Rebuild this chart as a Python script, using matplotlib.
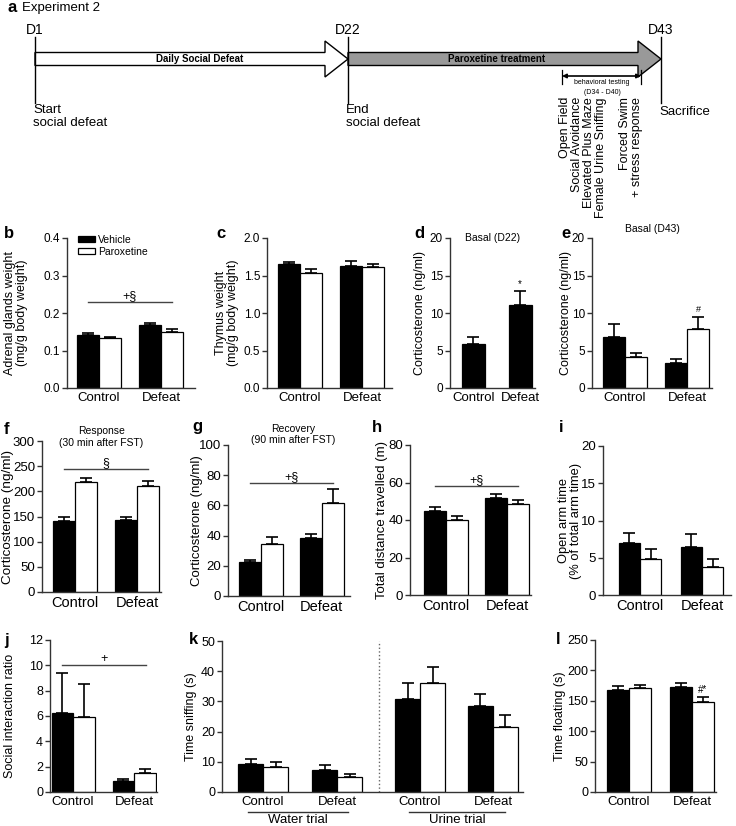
import numpy as np
import matplotlib
matplotlib.use("Agg")
import matplotlib.pyplot as plt
from matplotlib.patches import FancyArrow, Patch
from matplotlib.ticker import FormatStrFormatter

plt.rcParams['font.family'] = ['Liberation Sans', 'DejaVu Sans']

W, H = 736, 826

groups = ["Control", "Defeat"]

# b - adrenal glands weight (mg/g body weight)
adrenal_veh = [0.141, 0.168]
adrenal_veh_err = [0.005, 0.005]
adrenal_par = [0.133, 0.150]
adrenal_par_err = [0.003, 0.007]

# c - thymus weight
thymus_veh = [1.65, 1.63]
thymus_veh_err = [0.03, 0.07]
thymus_par = [1.53, 1.62]
thymus_par_err = [0.06, 0.04]

# d - corticosterone basal D22 (vehicle only)
cort_d22 = [5.9, 11.1]
cort_d22_err = [0.9, 1.8]

# e - corticosterone basal D43
cort_d43_veh = [6.8, 3.3]
cort_d43_veh_err = [1.7, 0.6]
cort_d43_par = [4.1, 7.9]
cort_d43_par_err = [0.6, 1.6]

# f - response 30 min after FST
resp_veh = [141, 143]
resp_veh_err = [8, 6]
resp_par = [219, 210]
resp_par_err = [7, 10]

# g - recovery 90 min after FST
recov_veh = [22.4, 38.2]
recov_veh_err = [1.3, 2.6]
recov_par = [34.2, 61.8]
recov_par_err = [4.6, 9.0]

# h - total distance travelled (m)
dist_veh = [44.8, 51.7]
dist_veh_err = [2.2, 2.0]
dist_par = [40.0, 48.5]
dist_par_err = [2.0, 2.0]

# i - open arm time (% of total arm time)
open_veh = [7.0, 6.5]
open_veh_err = [1.3, 1.7]
open_par = [4.8, 3.8]
open_par_err = [1.4, 1.0]

# j - social interaction ratio
sir_veh = [6.2, 0.88]
sir_veh_err = [3.2, 0.12]
sir_par = [5.9, 1.47]
sir_par_err = [2.6, 0.33]

# k - time sniffing (s): water trial then urine trial
sniff_groups = ["Control", "Defeat", "Control", "Defeat"]
sniff_veh = [9.3, 7.4, 30.9, 28.5]
sniff_veh_err = [1.5, 1.5, 5.1, 3.9]
sniff_par = [8.4, 5.0, 36.0, 21.5]
sniff_par_err = [1.6, 0.9, 5.3, 4.0]

# l - time floating (s)
float_veh = [168, 173]
float_veh_err = [6, 6]
float_par = [171, 148]
float_par_err = [5, 8]

fig = plt.figure(figsize=(W / 100, H / 100), dpi=100)
fig.patch.set_facecolor('white')

# overlay in pixel coordinates for the timeline and free labels
tl = fig.add_axes([0, 0, 1, 1], zorder=5)
tl.set_xlim(0, W)
tl.set_ylim(H, 0)
tl.axis('off')


def px_axes(x0, x1, ytop, ybot):
    return fig.add_axes([x0 / W, 1 - ybot / H, (x1 - x0) / W, (ybot - ytop) / H])


def style(ax, ymax, step, fmt, tick_fs, lab_fs):
    for s in ['top', 'right']:
        ax.spines[s].set_visible(False)
    for s in ['left', 'bottom']:
        ax.spines[s].set_color('#333333')
        ax.spines[s].set_linewidth(1.0)
    ax.set_ylim(0, ymax)
    ax.set_yticks(np.arange(0, ymax + step / 2, step))
    ax.yaxis.set_major_formatter(FormatStrFormatter(fmt))
    ax.tick_params(axis='y', direction='out', length=3.5, width=1, color='#333333',
                   labelsize=tick_fs, pad=1.5)
    ax.tick_params(axis='x', length=0, labelsize=lab_fs, pad=3)


def paired_bars(ax, pos, veh, veh_err, par, par_err):
    pos = np.asarray(pos, dtype=float)
    ax.bar(pos - 0.5, veh, 1, color='black', edgecolor='black', lw=0.9, zorder=2)
    ax.bar(pos + 0.5, par, 1, color='white', edgecolor='black', lw=0.9, zorder=2)
    for x, y, e in ((pos - 0.5, veh, veh_err), (pos + 0.5, par, par_err)):
        ax.errorbar(x, y, yerr=[np.zeros(len(e)), e], fmt='none', ecolor='black',
                    elinewidth=1.2, capsize=4, capthick=1.2, zorder=1)
    ax.set_xticks(pos)


def sig_line(ax, x0, x1, y, label, fs=9):
    ax.plot([x0, x1], [y, y], color='#444444', lw=1, clip_on=False)
    ax.text((x0 + x1) / 2, y, label, ha='center', va='bottom', fontsize=fs)


def ylab(x, ytop, ybot, text, fs):
    tl.text(x, (ytop + ybot) / 2, text, rotation=90, ha='center', va='center',
            fontsize=fs, multialignment='center', linespacing=1.0)


def letter(x, y, s):
    tl.text(x, y, s, fontsize=12, fontweight='bold', ha='left', va='center')


# ---------------- timeline (a) ----------------
letter(7, 8, 'a')
tl.text(22, 8, 'Experiment 2', fontsize=9.5, va='center')
tl.add_patch(FancyArrow(35, 59, 313, 0, width=13, head_width=36, head_length=23,
                        length_includes_head=True, fc='white', ec='black', lw=1))
tl.add_patch(FancyArrow(348, 59, 313, 0, width=13, head_width=36, head_length=23,
                        length_includes_head=True, fc='#999999', ec='black', lw=1))
for x, d in zip([35, 348, 661], ['D1', 'D22', 'D43']):
    tl.plot([x, x], [37, 103], color='black', lw=1)
    tl.text(x, 30, d, ha='center', va='center', fontsize=10)
tl.text(200, 59, 'Daily Social Defeat', ha='center', va='center', fontsize=7, fontweight='bold')
tl.text(497, 59, 'Paroxetine treatment', ha='center', va='center', fontsize=7, fontweight='bold')
tl.text(33, 104, 'Start\nsocial defeat', ha='left', va='top', fontsize=9.5, linespacing=1.15)
tl.text(346, 104, 'End\nsocial defeat', ha='left', va='top', fontsize=9.5, linespacing=1.15)
tl.text(659, 112, 'Sacrifice', ha='left', va='center', fontsize=9.5)
tl.annotate('', xy=(562, 76), xytext=(641, 76),
            arrowprops=dict(arrowstyle='<|-|>', lw=1.2, color='black', mutation_scale=6,
                            shrinkA=0, shrinkB=0))
for x in [562, 641]:
    tl.plot([x, x], [70, 84], color='black', lw=0.9)
tl.text(602, 83, 'behavioral testing', ha='center', va='center', fontsize=5)
tl.text(602, 92, '(D34 - D40)', ha='center', va='center', fontsize=5)
tests_a = ['Open Field', 'Social Avoidance', 'Elevated Plus Maze', 'Female Urine Sniffing']
tests_b = ['Forced Swim', '+ stress response']
tl.text(583, 97, '\n'.join(tests_a), rotation=90, ha='center', va='top', fontsize=9,
        multialignment='right', linespacing=0.98)
tl.text(631, 97, '\n'.join(tests_b), rotation=90, ha='center', va='top', fontsize=9,
        multialignment='right', linespacing=0.98)

# ---------------- row 2 ----------------
# b
ax = px_axes(67, 195, 238, 388)
paired_bars(ax, [0, 2.82], adrenal_veh, adrenal_veh_err, adrenal_par, adrenal_par_err)
ax.set_xlim(-1.45, 4.36)
style(ax, 0.4, 0.1, '%.1f', 8.5, 9.5)
ax.set_xticklabels(groups)
sig_line(ax, -0.5, 3.32, 0.229, '+§')
ax.legend(handles=[Patch(fc='black', ec='black', lw=0.9), Patch(fc='white', ec='black', lw=0.9)],
          labels=['Vehicle', 'Paroxetine'], loc='upper left', bbox_to_anchor=(0.05, 1.05),
          frameon=False, fontsize=7.5, handlelength=1.7, handleheight=0.55,
          handletextpad=0.3, labelspacing=0.2, borderaxespad=0)
letter(4, 233, 'b')
ylab(16, 238, 388, 'Adrenal glands weight\n(mg/g body weight)', 9)

# c
ax = px_axes(267, 392, 238, 388)
paired_bars(ax, [0, 2.82], thymus_veh, thymus_veh_err, thymus_par, thymus_par_err)
ax.set_xlim(-1.5, 4.18)
style(ax, 2.0, 0.5, '%.1f', 8.5, 9.5)
ax.set_xticklabels(groups)
letter(216, 233, 'c')
ylab(227, 238, 388, 'Thymus weight\n(mg/g body weight)', 9)

# d
ax = px_axes(450, 535, 238, 388)
pos_d = np.array([0, 2.02])
ax.bar(pos_d, cort_d22, 1, color='black', edgecolor='black', lw=0.9, zorder=2)
ax.errorbar(pos_d, cort_d22, yerr=[np.zeros(2), cort_d22_err], fmt='none', ecolor='black',
            elinewidth=1.2, capsize=4, capthick=1.2, zorder=1)
ax.set_xticks(pos_d)
ax.set_xlim(-1.02, 2.67)
style(ax, 20, 5, '%d', 8.5, 9.5)
ax.set_xticklabels(groups)
ax.text(pos_d[1], cort_d22[1] + cort_d22_err[1] + 0.3, '*', ha='center', va='bottom', fontsize=7)
ax.set_title('Basal (D22)', fontsize=7.5, pad=0, y=1.0, va='center')
letter(414, 233, 'd')
ylab(420, 238, 388, 'Corticosterone (ng/ml)', 9)

# e
ax = px_axes(592, 712, 238, 388)
paired_bars(ax, [0, 2.82], cort_d43_veh, cort_d43_veh_err, cort_d43_par, cort_d43_par_err)
ax.set_xlim(-1.5, 3.95)
style(ax, 20, 5, '%d', 8.5, 9.5)
ax.set_xticklabels(groups)
ax.text(3.32, cort_d43_par[1] + cort_d43_par_err[1] + 0.4, '#', ha='center', va='bottom', fontsize=6.5)
ax.text(0.5 * (-1.5 + 3.95), 21.2, 'Basal (D43)', ha='center', va='center', fontsize=7.5)
letter(561, 233, 'e')
ylab(566, 238, 388, 'Corticosterone (ng/ml)', 9)

# ---------------- row 3 ----------------
# f
ax = px_axes(42, 161, 441, 592)
paired_bars(ax, [0, 2.82], resp_veh, resp_veh_err, resp_par, resp_par_err)
ax.set_xlim(-1.5, 3.9)
style(ax, 300, 50, '%d', 9.5, 10.5)
ax.set_xticklabels(groups)
sig_line(ax, -0.5, 3.32, 245, '§')
ax.text(0.5 * (-1.5 + 3.9), 308, 'Response\n(30 min after FST)', ha='center', va='center',
        fontsize=7.5, linespacing=1.2)
letter(4, 430, 'f')
ylab(8, 441, 592, 'Corticosterone (ng/ml)', 9.7)

# g
ax = px_axes(228, 350, 445, 596)
paired_bars(ax, [0, 2.77], recov_veh, recov_veh_err, recov_par, recov_par_err)
ax.set_xlim(-1.5, 4.05)
style(ax, 100, 20, '%d', 9.5, 10.5)
ax.set_xticklabels(groups)
sig_line(ax, -0.5, 3.27, 75, '+§')
ax.text(1.46, 107, 'Recovery\n(90 min after FST)', ha='center', va='center',
        fontsize=7.5, linespacing=1.2)
letter(192, 427, 'g')
ylab(197, 445, 596, 'Corticosterone (ng/ml)', 9.5)

# h
ax = px_axes(410, 531, 445, 595)
paired_bars(ax, [0, 2.77], dist_veh, dist_veh_err, dist_par, dist_par_err)
ax.set_xlim(-1.64, 3.86)
style(ax, 80, 20, '%d', 9.5, 10.5)
ax.set_xticklabels(groups)
sig_line(ax, -0.5, 3.27, 58, '+§')
letter(372, 428, 'h')
ylab(382, 445, 595, 'Total distance travelled (m)', 9.5)

# i
ax = px_axes(603, 731, 446, 595)
paired_bars(ax, [0, 2.95], open_veh, open_veh_err, open_par, open_par_err)
ax.set_xlim(-1.76, 4.33)
style(ax, 20, 5, '%d', 9.5, 10.5)
ax.set_xticklabels(groups)
letter(559, 428, 'i')
ylab(570, 446, 595, 'Open arm time\n(% of total arm time)', 9.3)

# ---------------- row 4 ----------------
# j
ax = px_axes(50, 157, 640, 792)
paired_bars(ax, [0, 2.84], sir_veh, sir_veh_err, sir_par, sir_par_err)
ax.set_xlim(-1.07, 3.9)
style(ax, 12, 2, '%d', 9, 9.5)
ax.set_xticklabels(groups)
sig_line(ax, -0.5, 3.4, 10.0, '+')
letter(4, 640, 'j')
ylab(10, 640, 792, 'Social interaction ratio', 9)

# k
ax = px_axes(222, 523, 641, 792)
pos_k = [0, 2.96, 6.28, 9.2]
paired_bars(ax, pos_k, sniff_veh, sniff_veh_err, sniff_par, sniff_par_err)
ax.set_xlim(-1.64, 10.4)
style(ax, 50, 10, '%d', 9, 9.5)
ax.set_xticklabels(sniff_groups)
ax.axvline(4.64, color='#666666', ls=':', lw=1)
tl.plot([248, 348], [812, 812], color='#333333', lw=1)
tl.plot([409, 505], [812, 812], color='#333333', lw=1)
tl.text(298, 820, 'Water trial', ha='center', va='center', fontsize=9.5)
tl.text(457, 820, 'Urine trial', ha='center', va='center', fontsize=9.5)
letter(189, 640, 'k')
ylab(191, 641, 792, 'Time sniffing (s)', 9)

# l
ax = px_axes(595, 716, 640, 792)
paired_bars(ax, [0, 2.86], float_veh, float_veh_err, float_par, float_par_err)
ax.set_xlim(-1.55, 3.95)
style(ax, 250, 50, '%d', 9, 9.5)
ax.set_xticklabels(groups)
ax.text(3.36, float_par[1] + float_par_err[1] + 4, '#*', ha='center', va='bottom', fontsize=7)
letter(556, 640, 'l')
ylab(560, 640, 792, 'Time floating (s)', 9)

fig.savefig('out.png', dpi=100)
